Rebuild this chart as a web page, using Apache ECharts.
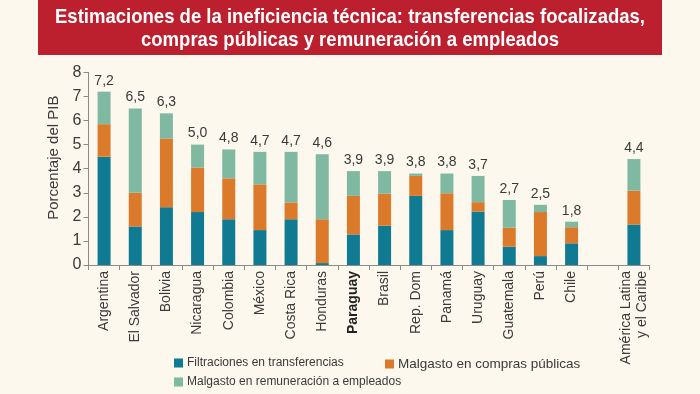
<!DOCTYPE html>
<html><head><meta charset="utf-8">
<script src="https://cdn.jsdelivr.net/npm/echarts@6/dist/echarts.min.js"></script>
<style>html,body{margin:0;padding:0;background:#fcf8ee;}#c{width:700px;height:394px;}</style>
</head><body><div id="c"></div>
<script>
const categories = ['Argentina','El Salvador','Bolivia','Nicaragua','Colombia','México','Costa Rica','Honduras','Paraguay','Brasil','Rep. Dom','Panamá','Uruguay','Guatemala','Perú','Chile','','América Latina\ny el Caribe'];
const filtraciones = [4.5,1.6,2.4,2.2,1.9,1.45,1.9,0.08,1.27,1.63,2.87,1.45,2.22,0.76,0.37,0.9,null,1.68];
const compras =      [1.35,1.4,2.85,1.85,1.7,1.9,0.7,1.82,1.6,1.33,0.83,1.53,0.39,0.79,1.83,0.67,null,1.41];
const remuneracion = [1.35,3.5,1.05,0.95,1.2,1.35,2.1,2.7,1.03,0.94,0.1,0.82,1.09,1.15,0.3,0.23,null,1.31];
const totals = ['7,2','6,5','6,3','5,0','4,8','4,7','4,7','4,6','3,9','3,9','3,8','3,8','3,7','2,7','2,5','1,8','','4,4'];
const yTicks = [0,1,2,3,4,5,6,7,8];
const seriesNames = ['Filtraciones en transferencias','Malgasto en compras públicas','Malgasto en remuneración a empleados'];
const titleLines = ['Estimaciones de la ineficiencia técnica: transferencias focalizadas,','compras públicas y remuneración a empleados'];
const colors = ['#0f7a91','#dc7a2c','#80b9a2'];

const chart = echarts.init(document.getElementById('c'), null, {renderer:'canvas'});
const txt = '#3a3a3a';
const sans = '"Liberation Sans",Arial,sans-serif';
const titleFont = 'bold 21px "Liberation Sans",Arial,sans-serif';
const ctx = document.createElement('canvas').getContext('2d');
ctx.font = titleFont;
const titleScale = 590 / ctx.measureText(titleLines[0]).width;

function legendItem(name, left, top, size){
  return {data:[name], left:left, top:top, orient:'horizontal', itemWidth:9, itemHeight:9, itemGap:0, icon:'rect', padding:0,
    textStyle:{fontFamily:sans, fontSize:size, color:txt, padding:[0,0,0,-1]}, selectedMode:false};
}
chart.setOption({
  backgroundColor:'#fcf8ee',
  animation:false,
  color: colors,
  graphic:[
    {type:'rect', shape:{x:38,y:0,width:624,height:55}, style:{fill:'#bc1f2e'}, z:0},
    {type:'text', x:350, y:17, scaleX:titleScale, z:1, style:{text:titleLines[0], font:titleFont, fill:'#fff', textAlign:'center', textVerticalAlign:'middle'}},
    {type:'text', x:350, y:40, scaleX:titleScale, z:1, style:{text:titleLines[1], font:titleFont, fill:'#fff', textAlign:'center', textVerticalAlign:'middle'}}
  ],
  legend:[
    legendItem(seriesNames[0],174,357,12),
    legendItem(seriesNames[1],385,357,13.5),
    legendItem(seriesNames[2],174,376,12)
  ],
  grid:{left:88.5, right:50.5, top:72.4, bottom:129},
  xAxis:{type:'category', data:categories, boundaryGap:true,
    axisLine:{lineStyle:{color:'#8a8a8a'}},
    axisTick:{show:true, length:5, alignWithLabel:false, lineStyle:{color:'#8a8a8a'}},
    axisLabel:{rotate:90, interval:0, margin:6, color:txt, fontFamily:sans, fontSize:14, lineHeight:16,
      formatter:function(v){return v==='Paraguay' ? '{b|'+v+'}' : v;},
      rich:{b:{fontWeight:'bold', fontSize:14, color:'#222', fontFamily:sans}}}},
  yAxis:{type:'value', min:0, max:8, interval:1,
    name:'Porcentaje del PIB', nameLocation:'middle', nameGap:25,
    nameTextStyle:{color:txt, fontFamily:sans, fontSize:15, padding:[0,0,0,22]},
    axisLine:{show:true, lineStyle:{color:'#8a8a8a'}},
    axisTick:{show:true, length:5, lineStyle:{color:'#8a8a8a'}},
    splitLine:{show:false},
    axisLabel:{color:txt, fontFamily:sans, fontSize:16, margin:7,
      formatter:function(v){return yTicks.indexOf(v)>=0 ? String(v) : '';}}},
  series:[
    {name:seriesNames[0], type:'bar', stack:'t', data:filtraciones, barWidth:13},
    {name:seriesNames[1], type:'bar', stack:'t', data:compras, barWidth:13},
    {name:seriesNames[2], type:'bar', stack:'t', data:remuneracion, barWidth:13,
      label:{show:true, position:'top', distance:4, color:txt, fontFamily:sans, fontSize:14,
        formatter:function(p){return totals[p.dataIndex];}}}
  ]
});
</script></body></html>
